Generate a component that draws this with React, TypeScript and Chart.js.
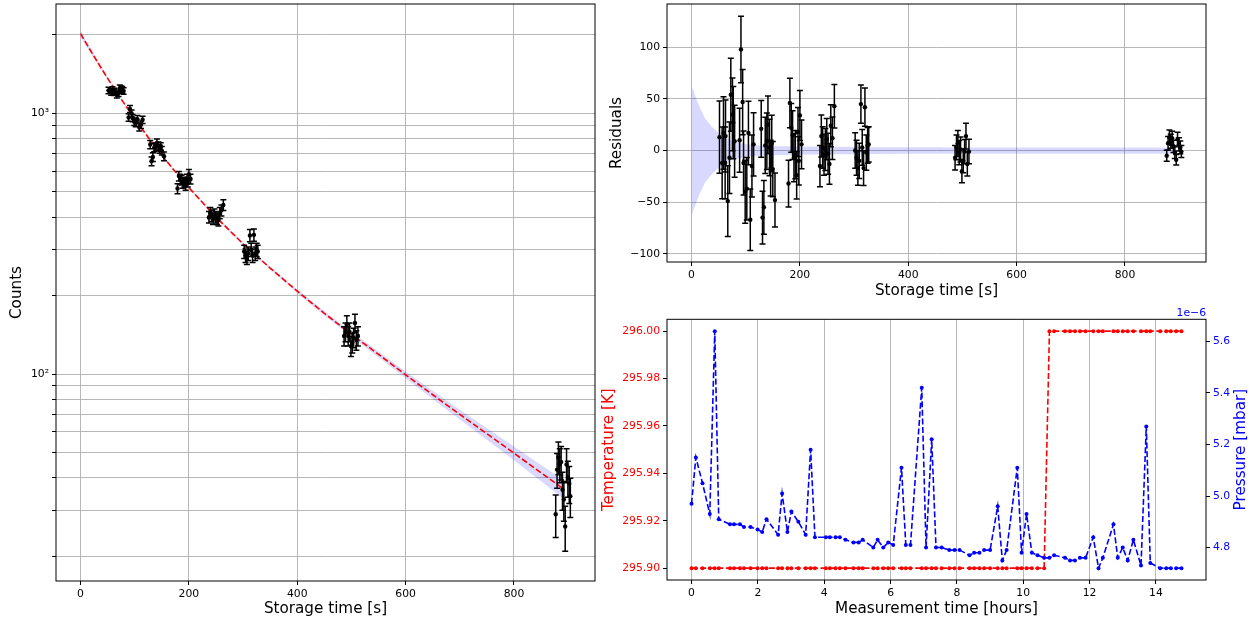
import React, { useEffect, useRef } from 'react';
import { Chart, registerables } from 'chart.js';

Chart.register(...registerables);

// ---------------- Data ----------------
// Storage-time scan (seconds), detected counts, residuals of the fit
const storageTime = [
  51.6, 56.5, 59.0, 62.0, 62.7, 66.9, 70.0, 72.5, 75.5, 77.0, 79.5,
  88.7, 91.2, 94.3, 96.0, 99.0, 102.0, 105.0, 108.4, 111.5, 114.5,
  128.6, 131.0, 133.5, 136.0, 139.0, 141.0, 144.0, 146.0, 148.0, 150.0, 154.0,
  179.0, 181.5, 184.0, 186.5, 189.0, 191.5, 194.0, 196.5, 198.0, 200.0, 203.0,
  237.0, 239.5, 242.0, 244.5, 247.0, 249.5, 252.0, 254.5, 257.0, 260.0, 263.6,
  302.0, 304.5, 307.0, 309.5, 312.6, 315.0, 317.5, 320.0, 322.5, 325.0, 327.0,
  486.4, 489.0, 491.5, 494.0, 496.5, 499.0, 501.5, 504.0, 506.5, 509.0, 512.0,
  877.0, 879.5, 882.0, 884.5, 887.0, 889.5, 892.0, 894.5, 897.0, 899.5, 902.0, 904.0,
];
const counts = [
  1225, 1210, 1230, 1205, 1215, 1180, 1195, 1250, 1240, 1230, 1220,
  965, 1040, 1000, 960, 930, 920, 950, 885, 905, 945,
  760, 655, 680, 740, 745, 770, 750, 730, 745, 720, 685,
  515, 575, 560, 555, 540, 545, 530, 560, 545, 585, 560,
  400, 415, 405, 395, 410, 400, 395, 390, 415, 425, 445,
  295, 285, 280, 290, 340, 300, 285, 342, 290, 300, 295,
  140, 145, 155, 140, 145, 128, 132, 138, 157, 135, 140,
  29, 43, 48, 45, 46, 36, 33, 26, 45, 40, 38, 34,
];
const residuals = [
  13, -12, 17, -12, 14, -49, -7, 54, 35, 27, 9,
  10, 98, 47, -12, -40, -37, 17, -67, -15, 6,
  21, -65, -55, 5, 9, 25, 3, -17, 7, -18, -48,
  -32, 46, 22, 15, -7, -4, -24, 18, -10, 34, 6,
  -15, 14, 3, -4, 1, 11, -3, -13, 24, 12, 43,
  0, -7, -17, -10, 45, 3, -17, 42, -2, 5, 6,
  -7, 3, 7, -2, 1, -20, -10, -1, 14, -13, -1,
  -5, 7, 13, 9, 12, 4, -2, -9, 11, 6, 3, -1,
];

// Fitted decay curve and its uncertainty band (half width, counts)
const fitTime = [0, 12.5, 25, 37.5, 50, 75, 100, 125, 150, 175, 200, 250, 300, 350, 400, 450, 500, 550, 600, 650, 700, 750, 800, 850, 890];
const fitCounts = [2023, 1827, 1654, 1500, 1363, 1135, 953, 809, 692, 597, 519, 400, 316, 255, 208, 171, 142, 119, 99.3, 83.3, 70.0, 59.0, 49.7, 41.8, 36.4];
const fitBand = [63, 45, 31, 23, 17, 9, 6, 5, 4.5, 4.2, 4, 3.7, 3.5, 3.3, 3.2, 3.1, 3, 3, 3, 3, 3, 3, 3, 3, 3];

// Environment monitoring
const measTime = [
  0, 0.13, 0.33, 0.55, 0.70, 0.82, 1.16, 1.28, 1.46, 1.58, 1.78, 1.99,
  2.13, 2.26, 2.61, 2.73, 2.89, 3.01, 3.22, 3.44, 3.59, 3.72, 4.05, 4.17,
  4.34, 4.47, 4.64, 4.88, 5.04, 5.16, 5.48, 5.61, 5.78, 5.93, 6.08, 6.33,
  6.46, 6.60, 6.94, 7.07, 7.24, 7.37, 7.54, 7.77, 7.93, 8.08, 8.38, 8.52,
  8.68, 8.82, 9.00, 9.23, 9.37, 9.50, 9.82, 9.95, 10.10, 10.26, 10.43, 10.63,
  10.79, 10.93, 11.26, 11.41, 11.56, 11.71, 11.88, 12.11, 12.27, 12.40, 12.72, 12.85,
  13.00, 13.15, 13.32, 13.55, 13.71, 13.83, 14.13, 14.31, 14.45, 14.61, 14.77,
];
const temperature = [
  295.9, 295.9, 295.9, 295.9, 295.9, 295.9, 295.9, 295.9, 295.9, 295.9, 295.9, 295.9,
  295.9, 295.9, 295.9, 295.9, 295.9, 295.9, 295.9, 295.9, 295.9, 295.9, 295.9, 295.9,
  295.9, 295.9, 295.9, 295.9, 295.9, 295.9, 295.9, 295.9, 295.9, 295.9, 295.9, 295.9,
  295.9, 295.9, 295.9, 295.9, 295.9, 295.9, 295.9, 295.9, 295.9, 295.9, 295.9, 295.9,
  295.9, 295.9, 295.9, 295.9, 295.9, 295.9, 295.9, 295.9, 295.9, 295.9, 295.9, 295.9,
  296.0, 296.0, 296.0, 296.0, 296.0, 296.0, 296.0, 296.0, 296.0, 296.0, 296.0, 296.0,
  296.0, 296.0, 296.0, 296.0, 296.0, 296.0, 296.0, 296.0, 296.0, 296.0, 296.0,
];
// pressure in units of 1e-6 mbar
const pressure = [
  4.97, 5.15, 5.05, 4.93, 5.64, 4.91, 4.89, 4.89, 4.89, 4.88, 4.88, 4.87,
  4.86, 4.91, 4.85, 5.01, 4.86, 4.94, 4.90, 4.85, 5.18, 4.84, 4.84, 4.84,
  4.84, 4.84, 4.83, 4.82, 4.82, 4.83, 4.80, 4.83, 4.80, 4.82, 4.81, 5.11,
  4.81, 4.81, 5.42, 4.80, 5.22, 4.80, 4.80, 4.79, 4.79, 4.79, 4.77, 4.78,
  4.78, 4.79, 4.79, 4.96, 4.75, 4.79, 5.11, 4.78, 4.93, 4.78, 4.77, 4.76,
  4.76, 4.77, 4.76, 4.75, 4.75, 4.76, 4.76, 4.84, 4.72, 4.76, 4.89, 4.76,
  4.80, 4.75, 4.83, 4.73, 5.27, 4.74, 4.72, 4.72, 4.72, 4.72, 4.72,
];

// Tick values
const storageTicks = [0, 200, 400, 600, 800];
const countTicks = [20, 30, 40, 50, 60, 70, 80, 90, 100, 200, 300, 400, 500, 600, 700, 800, 900, 1000, 2000];
const residualTicks = [-100, -50, 0, 50, 100];
const hourTicks = [0, 2, 4, 6, 8, 10, 12, 14];
const tempTicks = [295.9, 295.92, 295.94, 295.96, 295.98, 296.0];
const pressureTicks = [4.8, 5.0, 5.2, 5.4, 5.6];

// ---------------- Styling helpers ----------------
const FONT = 'DejaVu Sans';
const tickFont = { family: FONT, size: 10.8 };
const titleFont = { family: FONT, size: 15.2 };
const GRID = '#b0b0b0';
const BAND = 'rgba(0,0,255,0.15)';

const pts = (xs: number[], ys: number[]) => xs.map((x, i) => ({ x, y: ys[i] }));
const setTicks = (values: number[]) => (scale: any) => {
  scale.ticks = values.map((v) => ({ value: v }));
};
const minus = (v: number) => (v < 0 ? '\u2212' + Math.abs(v) : String(v));
const fixWidth = (w: number) => (s: any) => {
  s.width = w;
  s.paddingTop = 0;
  s.paddingBottom = 0;
};
const fixHeight = (h: number) => (s: any) => {
  s.height = h;
  s.paddingLeft = 0;
  s.paddingRight = 0;
};

const countErrors = counts.map((c) => Math.sqrt(c));

const errorBarPlugin = {
  id: 'errorBars',
  beforeDatasetDraw(chart: any, args: any) {
    const ds = chart.data.datasets[args.index];
    if (!ds.errors) return;
    const meta = args.meta;
    const xs = chart.scales[meta.xAxisID];
    const ys = chart.scales[meta.yAxisID];
    const ctx = chart.ctx;
    const cap = 3;
    ctx.save();
    ctx.strokeStyle = '#000';
    ctx.lineWidth = 1.5;
    ds.data.forEach((p: any, i: number) => {
      const e = ds.errors[i];
      const x = xs.getPixelForValue(p.x);
      const y1 = ys.getPixelForValue(p.y - e);
      const y2 = ys.getPixelForValue(p.y + e);
      ctx.beginPath();
      ctx.moveTo(x, y1);
      ctx.lineTo(x, y2);
      ctx.moveTo(x - cap, y1);
      ctx.lineTo(x + cap, y1);
      ctx.moveTo(x - cap, y2);
      ctx.lineTo(x + cap, y2);
      ctx.stroke();
    });
    ctx.restore();
  },
};

const framePlugin = {
  id: 'frame',
  afterDatasetsDraw(chart: any) {
    const { ctx, chartArea: a } = chart;
    ctx.save();
    ctx.strokeStyle = '#000';
    ctx.lineWidth = 1;
    ctx.strokeRect(a.left, a.top, a.right - a.left, a.bottom - a.top);
    ctx.restore();
  },
};

const envTextPlugin = {
  id: 'envText',
  afterDraw(chart: any) {
    const { ctx, chartArea: a } = chart;
    ctx.save();
    ctx.fillStyle = '#0000ff';
    ctx.font = `10.8px "${FONT}"`;
    ctx.textAlign = 'right';
    ctx.textBaseline = 'alphabetic';
    ctx.fillText('1e\u22126', a.right, a.top - 3);
    ctx.font = `15.2px "${FONT}"`;
    ctx.textAlign = 'center';
    ctx.textBaseline = 'middle';
    ctx.translate(641.5, (a.top + a.bottom) / 2);
    ctx.rotate(-Math.PI / 2);
    ctx.fillText('Pressure [mbar]', 0, 0);
    ctx.restore();
  },
};

const gridOpts = (show: boolean) => ({
  display: true,
  drawOnChartArea: show,
  color: GRID,
  lineWidth: 0.9,
  tickColor: '#000',
  tickLength: 4,
  tickWidth: 1,
});

const baseOptions = {
  responsive: false,
  animation: false as const,
  devicePixelRatio: 1,
  events: [] as any[],
  plugins: { legend: { display: false }, tooltip: { enabled: false } },
};

function leftConfig(): any {
  return {
    type: 'scatter',
    data: {
      datasets: [
        {
          data: pts(storageTime, counts),
          errors: countErrors,
          pointRadius: 2.2,
          pointBackgroundColor: '#000',
          pointBorderWidth: 0,
          order: 0,
        },
        {
          data: pts(fitTime, fitCounts),
          showLine: true,
          borderColor: '#ff0000',
          borderWidth: 1.6,
          borderDash: [6, 2.6],
          pointRadius: 0,
          order: 1,
        },
        {
          data: pts(fitTime, fitCounts.map((v, i) => v - fitBand[i])),
          showLine: true,
          borderColor: 'transparent',
          borderWidth: 1,
          pointRadius: 0,
          fill: false,
          order: 3,
        },
        {
          data: pts(fitTime, fitCounts.map((v, i) => v + fitBand[i])),
          showLine: true,
          borderColor: 'transparent',
          borderWidth: 1,
          pointRadius: 0,
          fill: '-1',
          backgroundColor: BAND,
          order: 2,
        },
      ],
    },
    options: {
      ...baseOptions,
      layout: { padding: { left: 0, right: 5, top: 1, bottom: 0 } },
      scales: {
        x: {
          type: 'linear',
          min: -45.3,
          max: 949.5,
          afterBuildTicks: setTicks(storageTicks),
          afterFit: fixHeight(42),
          grid: gridOpts(true),
          border: { display: false },
          ticks: { font: tickFont, color: '#000', padding: 3, autoSkip: false, maxRotation: 0 },
          title: { display: true, text: 'Storage time [s]', font: titleFont, color: '#000', padding: { top: 0, bottom: 4.9 } },
        },
        y: {
          type: 'logarithmic',
          min: 16.07,
          max: 2629,
          afterBuildTicks: setTicks(countTicks),
          afterFit: fixWidth(56),
          grid: gridOpts(true),
          border: { display: false },
          ticks: {
            font: tickFont,
            color: '#000',
            padding: 3,
            autoSkip: false,
            callback: (v: number) => (v === 100 ? '10\u00B2' : v === 1000 ? '10\u00B3' : ''),
          },
          title: { display: true, text: 'Counts', font: titleFont, color: '#000', padding: { top: 8.4, bottom: 0 } },
        },
      },
    },
    plugins: [errorBarPlugin, framePlugin],
  };
}

function residualConfig(): any {
  return {
    type: 'scatter',
    data: {
      datasets: [
        {
          data: pts(storageTime, residuals),
          errors: countErrors,
          pointRadius: 2.2,
          pointBackgroundColor: '#000',
          pointBorderWidth: 0,
          order: 0,
        },
        {
          data: pts(fitTime, fitBand.map((b) => -b)),
          showLine: true,
          borderColor: 'transparent',
          borderWidth: 1,
          pointRadius: 0,
          fill: false,
          order: 2,
        },
        {
          data: pts(fitTime, fitBand),
          showLine: true,
          borderColor: 'transparent',
          borderWidth: 1,
          pointRadius: 0,
          fill: '-1',
          backgroundColor: BAND,
          order: 1,
        },
      ],
    },
    options: {
      ...baseOptions,
      layout: { padding: { left: 0, right: 50, top: 1, bottom: 0 } },
      scales: {
        x: {
          type: 'linear',
          min: -45.3,
          max: 949.5,
          afterBuildTicks: setTicks(storageTicks),
          afterFit: fixHeight(44),
          grid: gridOpts(true),
          border: { display: false },
          ticks: { font: tickFont, color: '#000', padding: 3, autoSkip: false, maxRotation: 0 },
          title: { display: true, text: 'Storage time [s]', font: titleFont, color: '#000', padding: { top: 0, bottom: 5.9 } },
        },
        y: {
          type: 'linear',
          min: -108,
          max: 142,
          afterBuildTicks: setTicks(residualTicks),
          afterFit: fixWidth(67),
          grid: gridOpts(true),
          border: { display: false },
          ticks: { font: tickFont, color: '#000', padding: 3, autoSkip: false, callback: (v: number) => minus(v) },
          title: { display: true, text: 'Residuals', font: titleFont, color: '#000', padding: { top: 8.4, bottom: 0 } },
        },
      },
    },
    plugins: [errorBarPlugin, framePlugin],
  };
}

function envConfig(): any {
  return {
    type: 'scatter',
    data: {
      datasets: [
        {
          data: pts(measTime, pressure),
          yAxisID: 'yP',
          showLine: true,
          borderColor: '#0000ff',
          borderWidth: 1.6,
          borderDash: [6, 2.6],
          pointRadius: 2,
          pointBackgroundColor: '#0000ff',
          pointBorderWidth: 0,
          order: 0,
        },
        {
          data: pts(measTime, temperature),
          yAxisID: 'yT',
          showLine: true,
          borderColor: '#ff0000',
          borderWidth: 1.6,
          borderDash: [6, 2.6],
          pointRadius: 2,
          pointBackgroundColor: '#ff0000',
          pointBorderWidth: 0,
          order: 1,
        },
      ],
    },
    options: {
      ...baseOptions,
      layout: { padding: { left: 0, right: 0, top: 19.3, bottom: 0 } },
      scales: {
        x: {
          type: 'linear',
          min: -0.74,
          max: 15.51,
          afterBuildTicks: setTicks(hourTicks),
          afterFit: fixHeight(43),
          grid: gridOpts(true),
          border: { display: false },
          ticks: { font: tickFont, color: '#000', padding: 3, autoSkip: false, maxRotation: 0 },
          title: { display: true, text: 'Measurement time [hours]', font: titleFont, color: '#000', padding: { top: 0, bottom: 4.9 } },
        },
        yT: {
          type: 'linear',
          position: 'left',
          min: 295.895,
          max: 296.005,
          afterBuildTicks: setTicks(tempTicks),
          afterFit: fixWidth(67),
          grid: gridOpts(false),
          border: { display: false },
          ticks: { font: tickFont, color: '#ff0000', padding: 3, autoSkip: false, callback: (v: number) => v.toFixed(2) },
          title: { display: true, text: 'Temperature [K]', font: titleFont, color: '#ff0000', padding: { top: 0, bottom: 0 } },
        },
        yP: {
          type: 'linear',
          position: 'right',
          min: 4.674,
          max: 5.686,
          afterBuildTicks: setTicks(pressureTicks),
          afterFit: fixWidth(50),
          grid: gridOpts(false),
          border: { display: false },
          ticks: { font: tickFont, color: '#0000ff', padding: 3, autoSkip: false, callback: (v: number) => v.toFixed(1) },
          title: { display: false },
        },
      },
    },
    plugins: [framePlugin, envTextPlugin],
  };
}

export default function App() {
  const leftRef = useRef<HTMLCanvasElement>(null);
  const resRef = useRef<HTMLCanvasElement>(null);
  const envRef = useRef<HTMLCanvasElement>(null);

  useEffect(() => {
    const charts = [
      new Chart(leftRef.current!, leftConfig()),
      new Chart(resRef.current!, residualConfig()),
      new Chart(envRef.current!, envConfig()),
    ];
    return () => charts.forEach((c) => c.destroy());
  }, []);

  return (
    <div style={{ position: 'absolute', left: 0, top: 0, width: 1256, height: 623, background: '#fff', overflow: 'hidden' }}>
      <canvas ref={leftRef} width={600} height={623} style={{ position: 'absolute', left: 0, top: 0, width: 600, height: 623 }} />
      <canvas ref={resRef} width={656} height={306} style={{ position: 'absolute', left: 600, top: 0, width: 656, height: 306 }} />
      <canvas ref={envRef} width={656} height={323} style={{ position: 'absolute', left: 600, top: 300, width: 656, height: 323 }} />
    </div>
  );
}
